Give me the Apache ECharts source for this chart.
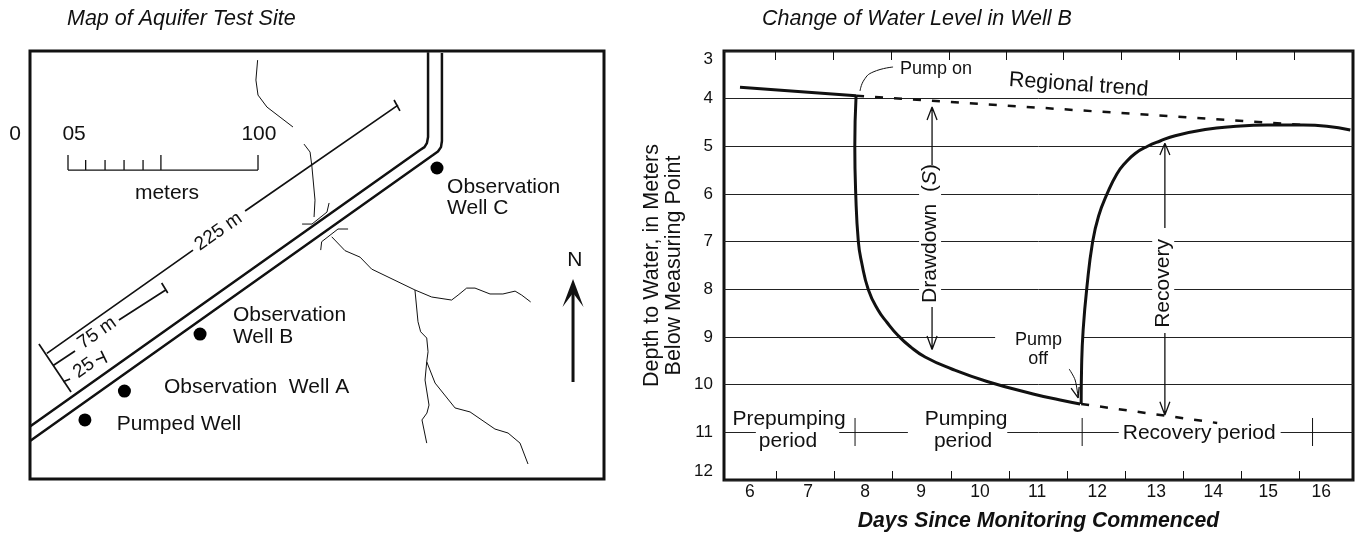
<!DOCTYPE html>
<html>
<head>
<meta charset="utf-8">
<title>Aquifer test</title>
<script src="https://cdn.jsdelivr.net/npm/echarts@6/dist/echarts.min.js"></script>
<style>
  html, body { margin: 0; background: #fff; }
  #chart { width: 1356px; height: 535px; }
</style>
</head>
<body>
<div id="chart"></div>
<script>
// gap marker for the polylines
var _ = [null, null];

// ---- right panel, x = days, y = depth to water (m) ----
var depthTicks = [3, 4, 5, 6, 7, 8, 9, 10, 11, 12];
var dayLabelAt = [6.047, 7.046, 8.026, 8.99, 10.005, 10.986, 12.019, 13.034, 14.015, 14.962, 15.874];
var bottomTickDays = [6.495, 7.493, 8.491, 9.506, 10.504, 11.503, 12.501, 13.499, 14.497, 15.495];
var topTickDays = [6.478, 7.476, 8.474, 9.472, 10.453, 11.442, 12.432, 13.43, 14.411, 15.409];

var prepumping = [[5.875, 3.761], [7.872, 3.938]];
var drawdown = [[7.872, 3.938], [7.85, 4.993], [7.866, 5.994], [7.911, 7.0], [7.966, 7.426], [8.083, 8.007],
  [8.25, 8.433], [8.405, 8.695], [8.594, 8.968], [8.801, 9.199], [9.059, 9.419], [9.518, 9.671],
  [10.126, 9.933], [10.917, 10.195], [11.382, 10.321], [11.726, 10.405]];
var recovery = [[11.744, 10.405], [11.752, 9.587], [11.778, 8.853], [11.841, 7.972], [11.941, 7.0], [12.044, 6.461], [12.191, 5.994],
  [12.358, 5.58], [12.501, 5.349], [12.673, 5.15], [12.879, 5.003], [13.103, 4.888], [13.361, 4.777], [13.877, 4.647], [14.359, 4.584],
  [14.944, 4.552], [15.564, 4.552], [16.373, 4.657]];
var regionalTrend = [[7.872, 3.938], [15.564, 4.552]];
var projectedDrawdown = [[11.744, 10.405], [13.189, 10.651], [14.084, 10.804]];
var pumpOnLeader = [[7.94, 3.839], [8.009, 3.608], [8.164, 3.441], [8.508, 3.336]];
var pumpOffLeader = [[11.537, 9.671], [11.64, 9.902], [11.692, 10.279]];
var periodMarks = [[7.854, 10.699], [7.854, 11.287], _, [11.761, 10.699], [11.761, 11.287], _, [15.724, 10.699], [15.724, 11.287]];
var arrowLines = [
  [9.179, 4.175], [9.179, 5.391], _, [9.093, 4.447], [9.179, 4.175], [9.265, 4.447], _,
  [9.179, 8.37], [9.179, 9.262], _, [9.093, 8.979], [9.179, 9.262], [9.265, 8.979], _,
  [13.184, 4.936], [13.184, 6.713], _, [13.098, 5.182], [13.184, 4.936], [13.27, 5.182], _,
  [13.184, 8.916], [13.184, 10.636], _, [13.098, 10.357], [13.184, 10.636], [13.27, 10.357], _,
  [11.571, 10.07], [11.692, 10.279], [11.709, 10.048]
];

// ---- left panel, both axes in metres from the lower left corner of the map ----
var roadWest = [[0, 27.6], [205.3, 173.2], [207.6, 174.7], [208.9, 176.8], [209.5, 180], [209.5, 224.7]];
var roadEast = [[0, 20], [212.1, 170.5], [214.7, 172.4], [216.3, 174.7], [216.8, 177.9], [216.8, 224.2]];
var distanceLines = [
  [4.7, 71.1], [21.6, 45.8], _,
  [8.9, 66.1], [85.8, 120.5], _, [113.2, 141.1], [193.7, 196.8], _, [191.6, 199.5], [194.7, 193.8], _,
  [12.6, 60], [23.7, 67.4], _, [46.8, 83.7], [71.4, 99.5], _, [69.3, 103.2], [72.5, 97.9], _,
  [17.4, 51.2], [21.1, 52.6], _, [34.7, 62.6], [38.7, 64.2], _, [37.4, 67.4], [40.4, 61.2]
];
var wells = [[28.9, 31.1], [49.7, 46.3], [89.5, 76.3], [214.2, 163.7]];
var scaleBase = [[20, 162.6], [120, 162.6]];
var scaleTicks = [
  [20, 162.6], [20, 170.5], _, [29.3, 162.6], [29.3, 167.9], _, [39.5, 162.6], [39.5, 167.9], _,
  [49.5, 162.6], [49.5, 167.9], _, [59.5, 162.6], [59.5, 167.9], _, [68.9, 162.6], [68.9, 170.5], _,
  [120, 162.6], [120, 170.5]
];
var streams = [
  [119.8, 220.5], [118.9, 210], [120, 202.1], [124.7, 195.8], [131.6, 190.5], [138.4, 185.3], _,
  [144.2, 176.3], [147.4, 172.1], [148.4, 164.2], [150, 146.8], [149.5, 137.9], _,
  [143.2, 134.2], [148.4, 134.2], [156.3, 140.5], [157.4, 145.3], _,
  [153, 120.5], [153.5, 124.9], [162.1, 131.6], [167.4, 131.6], _,
  [158.8, 127.5], [165.8, 120.2], [173.7, 116.8], [179.8, 110.5], [202.6, 99.5], [211.4, 95.8], [221.9, 94.2],
  [225.3, 96.8], [229.8, 100.5], [234.2, 100.5], [242.1, 97.4], [248.9, 97.4], [255.3, 98.9], [258.8, 96.8], [263.5, 93.2], _,
  [202.6, 99.5], [204.2, 82.8], [205.6, 77.5], [208.8, 74.2], [209.5, 67], [208.8, 61.7], [207.9, 52.1],
  [210, 38.9], [208.9, 34.7], [206.3, 31.1], [208.8, 18.9], _,
  [208.8, 61.7], [213.2, 50.5], [223.7, 37.4], [231.6, 35.3], [244.7, 26.3], [251.6, 24.2], [257.9, 18.9], [262.1, 7.9]
];
var northShaft = [[285.8, 51.1], [285.8, 97.9]];

var INK = '#111';
var FONT = '"Liberation Sans", Arial, sans-serif';
var TITLE_STYLE = { fontFamily: FONT, fontSize: 21.5, fontStyle: 'italic', fontWeight: 'normal', color: INK };

function line(panel, data, width, extra) {
  return Object.assign({
    type: 'line',
    xAxisIndex: panel === 0 ? 0 : 1,
    yAxisIndex: panel === 0 ? 0 : 1,
    data: data,
    symbol: 'none',
    silent: true,
    z: 4,
    lineStyle: { color: INK, width: width, cap: 'butt' }
  }, extra || {});
}

// annotation texts sit on a scatter series so they follow the axes
function texts(panel, items) {
  return {
    type: 'scatter',
    xAxisIndex: panel === 0 ? 0 : 1,
    yAxisIndex: panel === 0 ? 0 : 1,
    clip: false,
    silent: true,
    symbolSize: 0,
    itemStyle: { opacity: 1 },
    z: 2,
    data: items.map(function (t) {
      return {
        value: [t.x, t.y],
        label: Object.assign({
          show: true,
          position: 'inside',
          formatter: t.text,
          color: INK,
          fontFamily: FONT,
          fontSize: 21,
          align: 'center',
          verticalAlign: 'middle'
        }, t.style || {})
      };
    })
  };
}

var chart = echarts.init(document.getElementById('chart'));
chart.setOption({
  animation: false,
  backgroundColor: '#fff',
  title: [
    { text: 'Map of Aquifer Test Site', left: 62, top: 3, textStyle: TITLE_STYLE },
    { text: 'Change of Water Level in Well B', left: 757, top: 3, textStyle: TITLE_STYLE }
  ],
  grid: [
    { left: 30, top: 51, width: 574, height: 428, show: true, borderColor: INK, borderWidth: 3, outerBoundsMode: 'none' },
    { left: 724, top: 51, width: 629, height: 429, show: true, borderColor: INK, borderWidth: 3, outerBoundsMode: 'none' }
  ],
  xAxis: [
    { gridIndex: 0, type: 'value', min: 0, max: 302.1, show: false },
    {
      gridIndex: 1, type: 'value', min: 5.6, max: 16.42,
      position: 'bottom',
      name: 'Days Since Monitoring Commenced',
      nameLocation: 'middle',
      nameGap: 31,
      nameTextStyle: { fontFamily: FONT, fontSize: 21.2, fontWeight: 'bold', fontStyle: 'italic', color: INK },
      axisLine: { show: false },
      splitLine: { show: false },
      axisTick: { show: true, inside: true, length: 9, customValues: bottomTickDays, lineStyle: { color: INK, width: 1 } },
      axisLabel: {
        customValues: dayLabelAt,
        margin: 3,
        color: INK,
        fontFamily: FONT,
        fontSize: 17.5,
        formatter: function (v) { return String(Math.round(v)); }
      }
    },
    {
      gridIndex: 1, type: 'value', min: 5.6, max: 16.42,
      position: 'top',
      axisLine: { show: false },
      splitLine: { show: false },
      axisLabel: { show: false },
      axisTick: { show: true, inside: true, length: 9, customValues: topTickDays, lineStyle: { color: INK, width: 1 } }
    }
  ],
  yAxis: [
    { gridIndex: 0, type: 'value', min: 0, max: 225.3, show: false },
    {
      gridIndex: 1, type: 'value', inverse: true, min: depthTicks[0], max: depthTicks[depthTicks.length - 1], interval: 1,
      name: 'Depth to Water, in Meters\nBelow Measuring Point',
      nameLocation: 'middle',
      nameRotate: 90,
      nameGap: 39,
      nameTextStyle: { fontFamily: FONT, fontSize: 21.5, color: INK, lineHeight: 22 },
      axisLine: { show: false },
      axisTick: { show: false },
      splitLine: { show: true, lineStyle: { color: '#222', width: 1 } },
      axisLabel: {
        margin: 11,
        color: INK,
        fontFamily: FONT,
        fontSize: 17,
        verticalAlignMinLabel: 'top',
        verticalAlignMaxLabel: 'bottom'
      }
    }
  ],
  series: [
    // map
    line(0, streams, 1),
    line(0, roadWest, 2.5),
    line(0, roadEast, 2.5),
    line(0, distanceLines, 1.7),
    line(0, scaleBase, 1.3),
    line(0, scaleTicks, 1.3),
    {
      type: 'scatter', xAxisIndex: 0, yAxisIndex: 0, silent: true, z: 5,
      data: wells, symbol: 'circle', symbolSize: 13, itemStyle: { color: '#000', opacity: 1 }
    },
    line(0, [northShaft[0], { value: northShaft[1], symbol: 'path://M10 0L20 28L10 14L0 28Z', symbolSize: [21, 28], itemStyle: { color: INK } }], 3,
      { showSymbol: true }),
    texts(0, [
      { x: -7.9, y: 181.6, text: '0' },
      { x: 23.2, y: 181.6, text: '05' },
      { x: 120.5, y: 181.6, text: '100' },
      { x: 72.1, y: 150.7, text: 'meters' },
      { x: 99.2, y: 130.3, text: '225 m', style: { rotate: 35, fontSize: 19 } },
      { x: 35.3, y: 76.8, text: '75 m', style: { rotate: 35, fontSize: 19 } },
      { x: 28.4, y: 58.4, text: '25', style: { rotate: 35, fontSize: 19 } },
      { x: 45.6, y: 28.9, text: 'Pumped Well', style: { align: 'left' } },
      { x: 70.5, y: 48.4, text: 'Observation  Well A', style: { align: 'left' } },
      { x: 106.8, y: 80.5, text: 'Observation\nWell B', style: { align: 'left', lineHeight: 22 } },
      { x: 219.5, y: 148.2, text: 'Observation\nWell C', style: { align: 'left', lineHeight: 21 } },
      { x: 286.8, y: 115.3, text: 'N' }
    ]),
    // water level
    line(1, prepumping, 3),
    line(1, drawdown, 3, { smooth: 0.5 }),
    line(1, recovery, 3, { smooth: 0.5 }),
    line(1, regionalTrend, 2.5, { lineStyle: { color: INK, width: 2.5, type: [8, 11] } }),
    line(1, projectedDrawdown, 2.5, { lineStyle: { color: INK, width: 2.5, type: [8, 11] } }),
    line(1, pumpOnLeader, 1, { smooth: 0.5 }),
    line(1, pumpOffLeader, 1, { smooth: 0.3 }),
    line(1, arrowLines, 1.3),
    line(1, periodMarks, 1),
    texts(1, [
      { x: 8.629, y: 3.378, text: 'Pump on', style: { align: 'left', fontSize: 18 } },
      { x: 11.7, y: 3.713, text: 'Regional trend', style: { rotate: -4, fontSize: 21.5 } },
      {
        x: 9.145, y: 6.828, text: '{a|Drawdown  (}{i|S}{a|)}',
        style: {
          rotate: 90, backgroundColor: '#fff',
          rich: { a: { fontFamily: FONT, fontSize: 21, color: INK, lineHeight: 22 }, i: { fontFamily: FONT, fontSize: 21, fontStyle: 'italic', color: INK, lineHeight: 22 } }
        }
      },
      { x: 13.155, y: 7.877, text: 'Recovery', style: { rotate: 90, backgroundColor: '#fff', lineHeight: 22 } },
      { x: 11.012, y: 9.063, text: 'Pump', style: { fontSize: 18, backgroundColor: '#fff', padding: [0, 20, 0, 20] } },
      { x: 11.004, y: 9.461, text: 'off', style: { fontSize: 18 } },
      { x: 6.719, y: 10.72, text: 'Prepumping' },
      { x: 6.865, y: 11.181, text: 'period', style: { backgroundColor: '#fff', lineHeight: 21, padding: [0, 22, 0, 3] } },
      { x: 9.764, y: 10.72, text: 'Pumping' },
      { x: 9.618, y: 11.181, text: 'period', style: { backgroundColor: '#fff', lineHeight: 21, padding: [0, 15, 0, 26] } },
      { x: 13.783, y: 11.013, text: 'Recovery period', style: { backgroundColor: '#fff', lineHeight: 21, padding: [0, 5, 0, 4] } }
    ])
  ]
});
</script>
</body>
</html>
